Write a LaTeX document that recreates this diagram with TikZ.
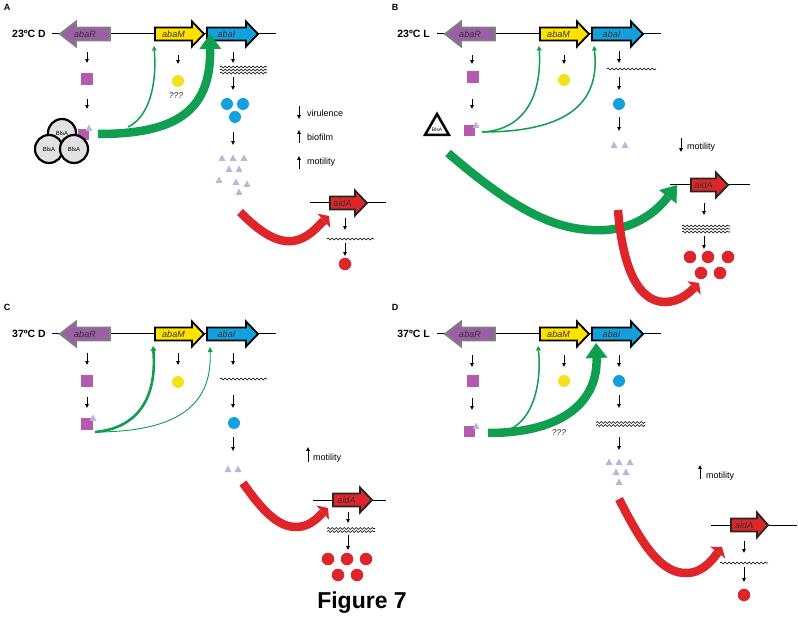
\documentclass[tikz,border=0pt]{standalone}
\usepackage{fontspec}
\setmainfont{Liberation Sans}
\usetikzlibrary{arrows.meta,decorations.pathmorphing}
\definecolor{rfill}{RGB}{155,95,165}
\definecolor{rdraw}{RGB}{128,128,128}
\definecolor{ygenec}{RGB}{255,226,0}
\definecolor{ydotc}{RGB}{242,226,30}
\definecolor{bluec}{RGB}{20,160,220}
\definecolor{redc}{RGB}{221,37,42}
\definecolor{grn}{RGB}{16,158,80}
\definecolor{sqc}{RGB}{180,90,175}
\definecolor{lavc}{RGB}{185,182,215}
\definecolor{blsc}{RGB}{225,225,225}
\tikzset{
 bb/.style={line width=1pt, draw=black},
 sarr/.style={line width=0.8pt, -{Triangle[length=3.8pt,width=3.6pt,line width=0pt]}},
 rgene/.style={fill=rfill, draw=rdraw, line width=1.8pt},
 ygene/.style={fill=ygenec, draw=black, line width=1.8pt},
 bgene/.style={fill=bluec, draw=black, line width=1.8pt},
 agene/.style={fill=redc, draw=black!85, line width=1.8pt},
 gtext/.style={font=\fontsize{9}{10}\selectfont\itshape, text=black!80, inner sep=0pt},
 temp/.style={font=\fontsize{10.5}{12}\selectfont\bfseries, inner sep=0pt},
 plab/.style={font=\fontsize{9}{10}\selectfont\bfseries, inner sep=0pt},
 leg/.style={font=\fontsize{9}{10}\selectfont, anchor=west, inner sep=0pt},
 qq/.style={font=\fontsize{8.5}{10}\selectfont\itshape, inner sep=0pt, text=black!80},
 wave/.style={decorate, decoration={snake, amplitude=0.9pt, segment length=4pt}, line width=0.6pt},
 sq/.style={rectangle, fill=sqc, minimum size=12pt, inner sep=0pt},
 ydot/.style={circle, fill=ydotc, minimum size=12pt, inner sep=0pt},
 bdot/.style={circle, fill=bluec, minimum size=12pt, inner sep=0pt},
 rdot/.style={circle, fill=redc, minimum size=12.5pt, inner sep=0pt},
 bls/.style={circle, fill=blsc, draw=black, line width=2.2pt, minimum size=28pt, inner sep=0pt, font=\fontsize{6}{6}\selectfont},
 gthin/.style={draw=grn, line width=1.5pt, -{Triangle[length=4.5pt,width=5pt,line width=0pt]}},
 gmid/.style={draw=grn, line width=2.6pt, -{Triangle[length=5pt,width=6pt,line width=0pt]}},
 ghair/.style={draw=grn, line width=0.9pt, -{Triangle[length=5pt,width=5pt,line width=0pt]}},
 gthick/.style={draw=grn, line width=8.5pt, -{Triangle[length=15pt,width=22pt,line width=0pt]}},
 rarr/.style={draw=redc, line width=8.5pt, -{Triangle[length=7pt,width=19pt,line width=0pt]}},
}
\newcommand\GeneR[7]{%
  \draw[#6] (#2,#5-6.5) -- (#3,#5-6.5) -- (#3,#5-12.5) -- (#4,#5) -- (#3,#5+12.5) -- (#3,#5+6.5) -- (#2,#5+6.5) -- cycle;
  \node[gtext] (#1) at ({(#2+#3)/2},#5) {#7};}
\newcommand\GeneL[7]{%
  \draw[#6] (#4,#5-6.5) -- (#3,#5-6.5) -- (#3,#5-12.5) -- (#2,#5) -- (#3,#5+12.5) -- (#3,#5+6.5) -- (#4,#5+6.5) -- cycle;
  \node[gtext] (#1) at ({(#2+#4)/2},#5) {#7};}
\newcommand\Darr[3]{\draw[sarr] (#1,#2) -- (#1,#3);}
\newcommand\Tri[2]{\fill[lavc] (#1-3.5,#2+3) -- (#1+3.5,#2+3) -- (#1,#2-3.5) -- cycle;}
\newcommand\Waves[4]{\foreach \o in {#4}{\draw[wave] (#1,#3+\o) -- (#2,#3+\o);}}
\begin{document}
\begin{tikzpicture}[x=1pt,y=-1pt]
\fill[white] (0,0) rectangle (798,617);
\useasboundingbox (0,0) rectangle (798,617);

%% ================= Panel A =================
\node[plab] (labA) at (7,7) {A};
\node[temp, anchor=east] (tA) at (46,34) {23ºC D};
\draw[bb] (52,34) -- (276,34);
\GeneL{Ar}{60}{76}{110}{34}{rgene}{abaR}
\GeneR{Am}{155}{192}{204}{34}{ygene}{abaM}
\GeneR{Ai}{207}{246}{258}{34}{bgene}{abaI}
\Darr{87}{52}{63}
\node[sq] (Asq1) at (87,79) {};
\Darr{87}{99}{109}
\node[sq, minimum size=11pt] (Asq2) at (83,135) {};
\Tri{89}{128}
\node[bls] (Ab1) at (62,133) {BlsA};
\node[bls] (Ab2) at (49,149) {BlsA};
\node[bls] (Ab3) at (74,149) {BlsA};
\coordinate (Ag0) at (98,134);
\coordinate (Ag1) at (128,127);
\coordinate (AgM) at (154,46);
\coordinate (AgI) at (210,34);
\draw[gthin] (Ag1) .. controls (149,117) and (157,85) .. (AgM);
\draw[gthick] (Ag0) .. controls (175,134) and (211,112) .. (AgI);
\Darr{178}{55}{64}
\node[ydot] (Ay) at (178,81) {};
\node[qq] (Aq) at (176,96) {???};
\Darr{233}{52}{63}
\Waves{220}{267}{70}{-3,0,3}
\Darr{233}{77}{90}
\node[bdot] (Ab4) at (227,104) {};
\node[bdot] (Ab5) at (243,104) {};
\node[bdot] (Ab6) at (235,117) {};
\Darr{233}{132}{145}
\Tri{222}{158}\Tri{233}{158}\Tri{244}{158}
\Tri{229}{169}\Tri{239}{169}
\Tri{219}{180}\Tri{236}{182}\Tri{247}{184}
\Tri{239}{192}
\Darr{299}{106}{119}
\node[leg] (Av) at (307,113) {virulence};
\Darr{299}{143}{130}
\node[leg] (Abf) at (307,137) {biofilm};
\Darr{299}{169}{156}
\node[leg] (Amo) at (307,162) {motility};
\coordinate (Ar0) at (240,212);
\coordinate (Ar1) at (329,216);
\draw[rarr] (Ar0) .. controls (258,230) and (275,243) .. (293,241) .. controls (308,239) and (318,226) .. (Ar1);
\draw[bb] (310,203) -- (386,203);
\GeneR{Aa}{330}{355}{367}{203}{agene}{aidA}
\Darr{345}{218}{230}
\Waves{327}{374}{239}{0}
\Darr{345}{243}{256}
\node[rdot] (Ard) at (345,264) {};

%% ================= Panel B =================
\node[plab] (labB) at (395,7) {B};
\node[temp, anchor=east] (tB) at (430,34) {23ºC L};
\draw[bb] (437,34) -- (661,34);
\GeneL{Br}{445}{461}{495}{34}{rgene}{abaR}
\GeneR{Bm}{540}{577}{589}{34}{ygene}{abaM}
\GeneR{Bi}{592}{631}{643}{34}{bgene}{abaI}
\Darr{472}{55}{64}
\node[sq] (Bsq1) at (473,77) {};
\Darr{472}{99}{109}
\node[sq, minimum size=11pt] (Bsq2) at (469,131) {};
\Tri{476}{125}
\draw[line width=2.5pt, fill=white, line join=miter] (425,135) -- (449,135) -- (437,114) -- cycle;
\node[font=\fontsize{5}{5}\selectfont, inner sep=0pt] (Bbls) at (437,130) {BlsA};
\coordinate (Bg0) at (482,132);
\coordinate (BgM) at (539,46);
\coordinate (BgI) at (594,46);
\draw[gthin] (Bg0) .. controls (525,130) and (542,95) .. (BgM);
\draw[gthin] (Bg0) .. controls (572,132) and (600,100) .. (BgI);
\Darr{564}{55}{64}
\node[ydot] (By) at (564,80) {};
\Darr{619}{51}{63}
\Waves{607}{656}{69}{0}
\Darr{619}{77}{90}
\node[bdot] (Bb) at (619,104) {};
\Darr{619}{117}{131}
\Tri{614}{145}\Tri{625}{145}
\Darr{681}{138}{152}
\node[leg] (Bmo) at (687,147) {motility};
\coordinate (BG0) at (448,153);
\coordinate (BG1) at (677,185);
\draw[gthick] (BG0) .. controls (520,215) and (560,232) .. (605,230) .. controls (640,228) and (660,207) .. (BG1);
\coordinate (BR0) at (618,210);
\coordinate (BR1) at (699,283);
\draw[rarr] (BR0) .. controls (622,262) and (636,302) .. (665,302) .. controls (680,302) and (690,292) .. (BR1);
\draw[bb] (670,185) -- (750,185);
\GeneR{Ba}{691}{716}{728}{185}{agene}{aidA}
\Darr{704}{203}{215}
\Waves{682}{730}{229}{-3,0,3}
\Darr{704}{236}{249}
\node[rdot] (Br1) at (690,257) {};
\node[rdot] (Br2) at (708,257) {};
\node[rdot] (Br3) at (728,257) {};
\node[rdot] (Br4) at (701,273) {};
\node[rdot] (Br5) at (720,273) {};

%% ================= Panel C =================
\node[plab] (labC) at (7,307) {C};
\node[temp, anchor=east] (tC) at (46,334) {37ºC D};
\draw[bb] (52,334) -- (276,334);
\GeneL{Cr}{60}{76}{110}{334}{rgene}{abaR}
\GeneR{Cm}{155}{192}{204}{334}{ygene}{abaM}
\GeneR{Ci}{207}{246}{258}{334}{bgene}{abaI}
\Darr{87}{353}{365}
\node[sq] (Csq1) at (87,381) {};
\Darr{87}{397}{408}
\node[sq] (Csq2) at (87,424) {};
\Tri{93}{418}
\coordinate (Cg0) at (95,432);
\coordinate (CgM) at (153,346);
\coordinate (CgI) at (210,347);
\draw[gmid] (Cg0) .. controls (140,428) and (157,395) .. (CgM);
\draw[ghair] (Cg0) .. controls (185,432) and (212,400) .. (CgI);
\Darr{178}{353}{365}
\node[ydot] (Cy) at (178,382) {};
\Darr{233}{353}{365}
\Waves{220}{267}{379}{0}
\Darr{233}{395}{408}
\node[bdot] (Cb) at (234,423) {};
\Darr{233}{437}{451}
\Tri{228}{469}\Tri{238}{469}
\Darr{308}{462}{447}
\node[leg] (Cmo) at (313,458) {motility};
\coordinate (CR0) at (243,483);
\coordinate (CR1) at (328,508);
\draw[rarr] (CR0) .. controls (262,510) and (278,528) .. (298,527) .. controls (312,526) and (320,515) .. (CR1);
\draw[bb] (313,500) -- (386,500);
\GeneR{Ca}{333}{360}{372}{500}{agene}{aidA}
\Darr{348}{512}{523}
\Waves{327}{375}{530}{-1.5,1.5}
\Darr{348}{535}{550}
\node[rdot] (Cr1) at (328,559) {};
\node[rdot] (Cr2) at (347,559) {};
\node[rdot] (Cr3) at (366,559) {};
\node[rdot] (Cr4) at (338,575) {};
\node[rdot] (Cr5) at (357,575) {};

%% ================= Panel D =================
\node[plab] (labD) at (395,307) {D};
\node[temp, anchor=east] (tD) at (430,334) {37ºC L};
\draw[bb] (437,334) -- (661,334);
\GeneL{Dr}{445}{461}{495}{334}{rgene}{abaR}
\GeneR{Dm}{540}{577}{589}{334}{ygene}{abaM}
\GeneR{Di}{592}{631}{643}{334}{bgene}{abaI}
\Darr{472}{355}{367}
\node[sq] (Dsq1) at (473,381) {};
\Darr{472}{398}{410}
\node[sq, minimum size=11pt] (Dsq2) at (469,432) {};
\Tri{476}{426}
\coordinate (Dg0) at (488,433);
\coordinate (Dg1) at (510,429);
\coordinate (DgM) at (538,346);
\coordinate (DgI) at (596,343);
\draw[gthin] (Dg1) .. controls (532,420) and (542,385) .. (DgM);
\draw[gthick] (Dg0) .. controls (565,433) and (598,400) .. (DgI);
\node[qq] (Dq) at (559,433) {???};
\Darr{564}{355}{367}
\node[ydot] (Dy) at (564,381) {};
\Darr{619}{355}{367}
\node[bdot] (Db) at (619,381) {};
\Darr{619}{395}{408}
\Waves{596}{645}{424}{-1.5,1.5}
\Darr{619}{437}{450}
\Tri{609}{462}\Tri{619}{462}\Tri{630}{462}
\Tri{616}{472}\Tri{626}{472}
\Tri{619}{482}
\Darr{700}{479}{465}
\node[leg] (Dmo) at (706,476) {motility};
\coordinate (DR0) at (619,499);
\coordinate (DR1) at (722,547);
\draw[rarr] (DR0) .. controls (640,540) and (660,575) .. (688,573) .. controls (705,572) and (715,556) .. (DR1);
\draw[bb] (711,525) -- (797,525);
\GeneR{Da}{731}{757}{768}{525}{agene}{aidA}
\Darr{744}{541}{553}
\Waves{720}{768}{563}{0}
\Darr{744}{567}{582}
\node[rdot] (Dr1) at (744,595) {};

\node[font=\fontsize{23}{26}\selectfont\bfseries, inner sep=0pt] (fig) at (362,603) {Figure 7};
\end{tikzpicture}
\end{document}
